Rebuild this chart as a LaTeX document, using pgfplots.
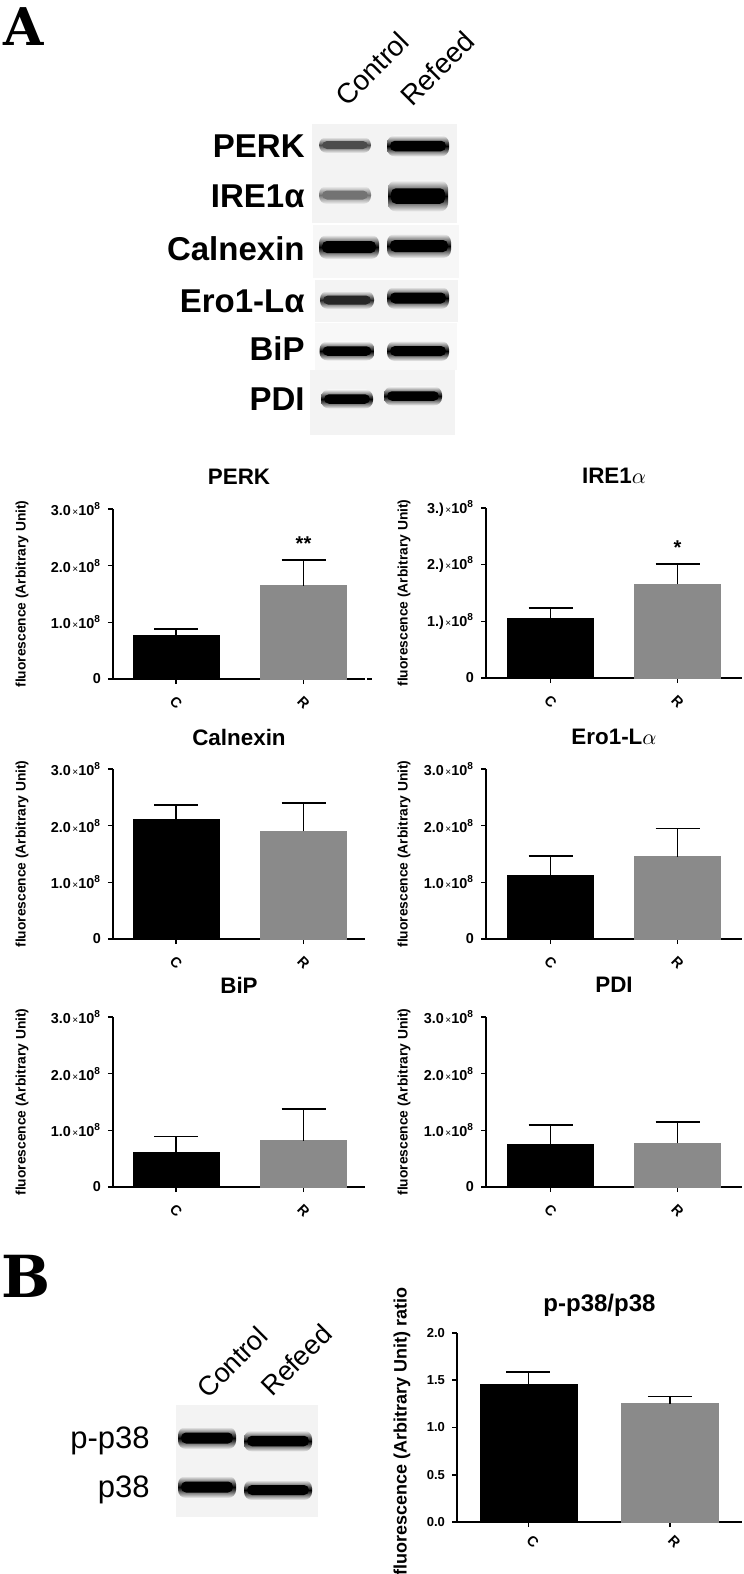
\documentclass[border=0pt]{standalone}
\usepackage{fontspec}
\setmainfont{Liberation Sans}
\newfontfamily\panelfont{DejaVu Serif}
\usepackage{pgfplots}
\pgfplotsset{compat=1.18}
\definecolor{bargray}{RGB}{138,138,138}
\definecolor{blotbg}{RGB}{243,243,243}

\newcommand{\band}[5]{%
  \shade[top color=blotbg, bottom color=blotbg, middle color=#5, rounded corners=4pt] ({#1-#3/2},{#2-#4/2}) rectangle ({#1+#3/2},{#2+#4/2});
  \fill[#5, rounded corners=2.5pt] ({#1-#3/2+3},{#2-#4/4}) rectangle ({#1+#3/2-3},{#2+#4/4});
}

\pgfplotsset{
  fluo/.style={
    scale only axis, height=85pt,
    axis x line*=bottom, axis y line*=left,
    axis line style={line width=1pt},
    ymin=0, ymax=3, ytick={0,1,2,3},
    xtick={1,2}, xticklabels={C,R},
    tick align=outside, major tick length=2.5pt,
    tick style={line width=0.8pt, black},
    yticklabel style={font=\fontsize{7.2}{8}\selectfont\bfseries},
    xticklabel style={font=\fontsize{7.2}{8}\selectfont\bfseries, yshift=-9.5pt, rotate=-45, anchor=center},
    title style={font=\fontsize{11.2}{12}\selectfont\bfseries, at={(0.5,1)}, anchor=center, yshift=10pt},
    ylabel={fluorescence (Arbitrary Unit)},
    ylabel style={font=\fontsize{6.9}{8}\selectfont\bfseries, anchor=center},
    clip=false,
  },
  leftcol/.style={width=126pt, xmin=0.506, xmax=2.482,
    ylabel style={at={(axis description cs:-0.361,0.5)}}},
  rightcol/.style={width=128pt, xmin=0.492, xmax=2.508,
    ylabel style={at={(axis description cs:-0.32,0.5)}}},
  sci/.style={yticklabels={0,{1.0{\fontsize{5}{5}\selectfont\mdseries\,×}10\textsuperscript{8}},{2.0{\fontsize{5}{5}\selectfont\mdseries\,×}10\textsuperscript{8}},{3.0{\fontsize{5}{5}\selectfont\mdseries\,×}10\textsuperscript{8}}}},
  errs/.style={
    error bars/y dir=plus, error bars/y explicit,
    error bars/error bar style={line width=0.8pt, black},
    error bars/error mark options={rotate=90, line width=0.8pt, mark size=11pt, black}},
  cbar/.style={ybar, bar shift=0pt, bar width=0.675, fill=black, draw=black, line width=0.4pt, errs},
  rbar/.style={ybar, bar shift=0pt, bar width=0.675, fill=bargray, draw=bargray, line width=0.4pt, errs},
}

\begin{document}
\begin{tikzpicture}
\path[use as bounding box] (0,0) rectangle (372pt,-787pt);

% ---------------- blots and labels (pixel units) ----------------
\begin{scope}[x=0.5pt,y=-0.5pt]
\node[anchor=base west, font=\panelfont\bfseries\fontsize{26}{28}\selectfont, inner sep=0] at (3,46) {A};
\node[anchor=base west, font=\panelfont\bfseries\fontsize{29}{30}\selectfont, inner sep=0] at (1,1297) {B};

% panel A blot
\fill[blotbg] (312,124) rectangle (457,223);
\fill[blotbg!70!white] (313,225) rectangle (459,278);
\fill[blotbg] (315,280) rectangle (458,322);
\fill[blotbg!60!white] (315,323) rectangle (457,370);
\fill[blotbg] (310,370) rectangle (455,435);

\band{345}{145}{52}{16}{black!70}
\band{418}{146}{62}{21}{black}
\band{345}{195}{52}{18}{black!55}
\band{418}{196}{60}{31}{black}
\band{349}{247}{60}{24}{black}
\band{419}{246}{64}{24}{black}
\band{347}{300}{54}{18}{black!85}
\band{418}{298}{62}{22}{black}
\band{347}{351}{55}{19}{black}
\band{418}{351}{62}{20}{black}
\band{347}{399}{52}{19}{black}
\band{413}{396}{58}{19}{black}

\begin{scope}[font=\fontsize{16.5}{18}\selectfont\bfseries]
\node[anchor=base east, inner sep=0] at (305,157) {PERK};
\node[anchor=base east, inner sep=0] at (305,207) {IRE1α};
\node[anchor=base east, inner sep=0] at (305,260) {Calnexin};
\node[anchor=base east, inner sep=0] at (305,312) {Ero1-Lα};
\node[anchor=base east, inner sep=0] at (305,360) {BiP};
\node[anchor=base east, inner sep=0] at (305,410) {PDI};
\end{scope}
\node[anchor=base west, rotate=45, inner sep=0, font=\fontsize{14}{16}\selectfont] at (347,108) {Control};
\node[anchor=base west, rotate=45, inner sep=0, font=\fontsize{14}{16}\selectfont] at (412,108) {Refeed};

% panel B blot
\fill[blotbg] (176,1405) rectangle (318,1517);
\band{207}{1438}{58}{22}{black}
\band{278}{1441}{68}{21}{black}
\band{207}{1487}{58}{22}{black}
\band{278}{1490}{68}{20}{black}
\begin{scope}[font=\fontsize{15.5}{17}\selectfont]
\node[anchor=base east, inner sep=0] at (150,1448) {p-p38};
\node[anchor=base east, inner sep=0] at (150,1497) {p38};
\end{scope}
\node[anchor=base west, rotate=45, inner sep=0, font=\fontsize{13.5}{15}\selectfont] at (208,1400) {Control};
\node[anchor=base west, rotate=45, inner sep=0, font=\fontsize{13.5}{15}\selectfont] at (272,1398) {Refeed};

\draw[line width=0.8pt] (367,679) -- (372,679);
\end{scope}

% ---------------- PERK ----------------
\begin{axis}[fluo, leftcol, sci, at={(56.5pt,-339.5pt)}, anchor=south west, title={PERK}]
\addplot[cbar] coordinates {(1,0.778) +- (0,0.100)};
\addplot[rbar] coordinates {(2,1.650) +- (0,0.454)};
\node[font=\fontsize{10}{10}\selectfont\bfseries] at (axis cs:2,2.104) [yshift=8pt] {**};
\end{axis}

% ---------------- IRE1a ----------------
\begin{axis}[fluo, rightcol, at={(243pt,-339pt)}, anchor=south west, title={IRE1$\alpha$},
  yticklabels={0,{1.){\fontsize{5}{5}\selectfont\mdseries\,×}10\textsuperscript{8}},{2.){\fontsize{5}{5}\selectfont\mdseries\,×}10\textsuperscript{8}},{3.){\fontsize{5}{5}\selectfont\mdseries\,×}10\textsuperscript{8}}}]
\addplot[cbar] coordinates {(1,1.053) +- (0,0.178)};
\addplot[rbar] coordinates {(2,1.657) +- (0,0.353)};
\node[font=\fontsize{10}{10}\selectfont\bfseries] at (axis cs:2,2.01) [yshift=8pt] {*};
\end{axis}

% ---------------- Calnexin ----------------
\begin{axis}[fluo, leftcol, sci, at={(56.5pt,-469.5pt)}, anchor=south west, title={Calnexin}]
\addplot[cbar] coordinates {(1,2.112) +- (0,0.249)};
\addplot[rbar] coordinates {(2,1.905) +- (0,0.491)};
\end{axis}

% ---------------- Ero1-La ----------------
\begin{axis}[fluo, rightcol, sci, at={(243pt,-469.5pt)}, anchor=south west, title={Ero1-L$\alpha$}]
\addplot[cbar] coordinates {(1,1.124) +- (0,0.343)};
\addplot[rbar] coordinates {(2,1.450) +- (0,0.503)};
\end{axis}

% ---------------- BiP ----------------
\begin{axis}[fluo, leftcol, sci, at={(56.5pt,-593.5pt)}, anchor=south west, title={BiP}]
\addplot[cbar] coordinates {(1,0.604) +- (0,0.284)};
\addplot[rbar] coordinates {(2,0.817) +- (0,0.562)};
\end{axis}

% ---------------- PDI ----------------
\begin{axis}[fluo, rightcol, sci, at={(243pt,-593.5pt)}, anchor=south west, title={PDI}]
\addplot[cbar] coordinates {(1,0.746) +- (0,0.349)};
\addplot[rbar] coordinates {(2,0.769) +- (0,0.379)};
\end{axis}

% ---------------- p-p38/p38 ----------------
\begin{axis}[fluo, at={(228.5pt,-761pt)}, anchor=south west,
  width=142.5pt, height=94.5pt, xmin=0.495, xmax=2.509,
  ymin=0, ymax=2, ytick={0,0.5,1,1.5,2}, yticklabels={0.0,0.5,1.0,1.5,2.0},
  yticklabel style={font=\fontsize{6.5}{7}\selectfont\bfseries},
  xticklabel style={yshift=3pt},
  title={p-p38/p38}, title style={font=\fontsize{12}{13}\selectfont\bfseries, yshift=-2pt},
  ylabel={fluorescence (Arbitrary Unit) ratio},
  ylabel style={font=\fontsize{9}{10}\selectfont\bfseries, at={(axis description cs:-0.193,0.48)}}]
\addplot[cbar, bar width=0.686] coordinates {(1,1.451) +- (0,0.138)};
\addplot[rbar, bar width=0.686] coordinates {(2,1.250) +- (0,0.077)};
\end{axis}
\end{tikzpicture}
\end{document}
